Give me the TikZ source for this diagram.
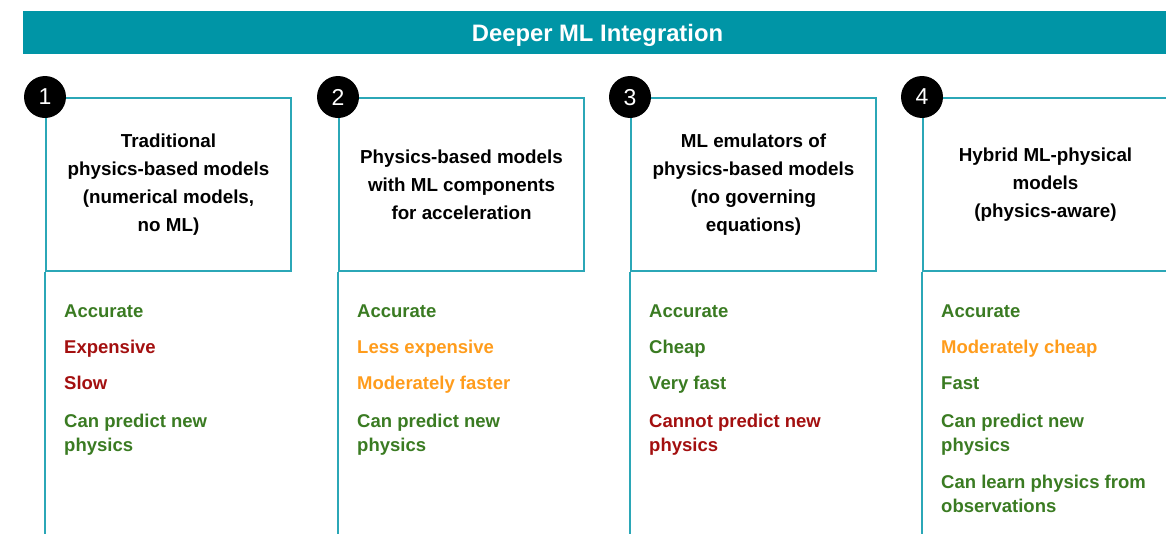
\documentclass[tikz,border=0pt]{standalone}
\usepackage{fontspec}
\setmainfont{Liberation Sans}
\definecolor{bannerteal}{HTML}{0095A6}
\definecolor{lineteal}{HTML}{2BA7B7}
\definecolor{goodgreen}{HTML}{3A7B22}
\definecolor{badred}{HTML}{A30F0F}
\definecolor{midorange}{HTML}{FF9C1C}
\tikzset{
    banner/.style = {fill = bannerteal, text = white, minimum width = 1149pt, minimum height = 43pt,
        inner sep = 0pt, text depth = 0pt, font = \fontsize{23.8}{24}\selectfont\bfseries},
    modelbox/.style = {draw = lineteal, line width = 2pt, minimum width = 245pt, minimum height = 173pt,
        anchor = north west, inner sep = 0pt, align = center, font = \fontsize{18.8}{28}\selectfont\bfseries},
    numdot/.style = {circle, fill = black, minimum size = 42pt, inner sep = 0pt, text = white,
        text depth = 0pt, font = \fontsize{23}{23}\selectfont},
    stem/.style = {draw = lineteal, line width = 2pt},
    item/.style = {anchor = base west, align = left, inner sep = 0pt, font = \fontsize{18.5}{24}\selectfont\bfseries},
    good/.style = {item, text = goodgreen},
    bad/.style = {item, text = badred},
    mid/.style = {item, text = midorange}
}
\begin{document}
\begin{tikzpicture}[x = 1pt, y = -1pt]
    \useasboundingbox (0,0) rectangle (1166,533);
    \clip (0,0) rectangle (1166,533);
    \node[banner] (top) at (597.5,32.5) {Deeper ML Integration};

    \node[modelbox] (box1) at (45,97) {Traditional\\physics-based models\\(numerical models,\\no ML)};
    \coordinate (end1) at (45,540);
    \draw[stem] (box1.south west) -- (end1);
    \node[numdot] (n1) at (box1.north west) {1};
    \node[good] (a1) at (64,317) {Accurate};
    \node[bad] (b1) at (64,353) {Expensive};
    \node[bad] (c1) at (64,389) {Slow};
    \node[good] (d1) at (64,451) {Can predict new\\physics};

    \node[modelbox] (box2) at (338,97) {Physics-based models\\with ML components\\for acceleration};
    \coordinate (end2) at (338,540);
    \draw[stem] (box2.south west) -- (end2);
    \node[numdot] (n2) at (box2.north west) {2};
    \node[good] (a2) at (357,317) {Accurate};
    \node[mid] (b2) at (357,353) {Less expensive};
    \node[mid] (c2) at (357,389) {Moderately faster};
    \node[good] (d2) at (357,451) {Can predict new\\physics};

    \node[modelbox] (box3) at (630,97) {ML emulators of\\physics-based models\\(no governing\\equations)};
    \coordinate (end3) at (630,540);
    \draw[stem] (box3.south west) -- (end3);
    \node[numdot] (n3) at (box3.north west) {3};
    \node[good] (a3) at (649,317) {Accurate};
    \node[good] (b3) at (649,353) {Cheap};
    \node[good] (c3) at (649,389) {Very fast};
    \node[bad] (d3) at (649,451) {Cannot predict new\\physics};

    \node[modelbox] (box4) at (922,97) {Hybrid ML-physical\\models\\(physics-aware)};
    \coordinate (end4) at (922,540);
    \draw[stem] (box4.south west) -- (end4);
    \node[numdot] (n4) at (box4.north west) {4};
    \node[good] (a4) at (941,317) {Accurate};
    \node[mid] (b4) at (941,353) {Moderately cheap};
    \node[good] (c4) at (941,389) {Fast};
    \node[good] (d4) at (941,451) {Can predict new\\physics};
    \node[good] (e4) at (941,512) {Can learn physics from\\observations};
\end{tikzpicture}
\end{document}
